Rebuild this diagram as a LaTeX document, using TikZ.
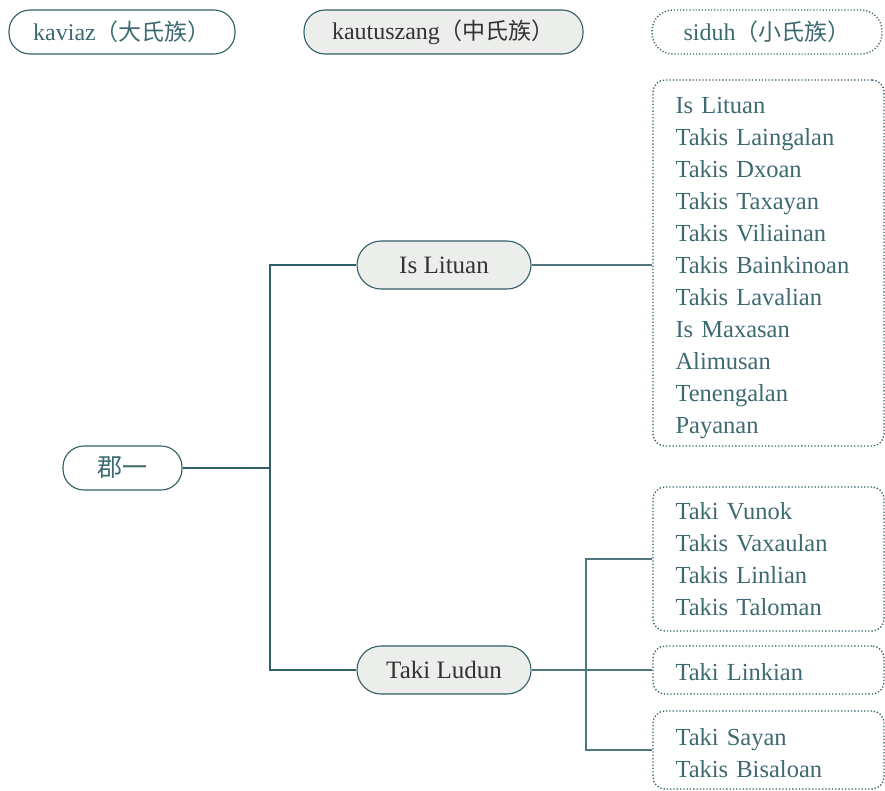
\documentclass[tikz,border=0pt]{standalone}
\usepackage{fontspec}
\setmainfont{Liberation Serif}
\newfontfamily\cjk{Noto Sans CJK SC}
\definecolor{edge}{HTML}{2F5E66}
\definecolor{leaftxt}{HTML}{3D6A70}
\definecolor{midfill}{HTML}{ECEEEB}
\definecolor{midtxt}{HTML}{333333}
\newcommand{\cjkp}[1]{{\cjk\fontsize{23}{26}\selectfont #1}}
\begin{document}
\begin{tikzpicture}[x=1pt,y=-1pt,
  pill/.style={draw=edge,line width=1.1pt,rounded corners=21pt,minimum height=44pt,inner sep=0pt,font=\fontsize{24}{28}\selectfont},
  leafbox/.style={draw=edge,line width=1.3pt,dotted,rounded corners=12pt,minimum width=231pt,text width=186pt,align=left,inner xsep=22.5pt,inner ysep=0pt,text=leaftxt,font=\fontsize{24.5}{32}\selectfont},
  mid/.style={pill,fill=midfill,text=midtxt,minimum width=174pt,minimum height=48pt,rounded corners=24pt,font=\fontsize{25}{28}\selectfont},
  thick link/.style={draw=edge,line width=2.8pt},
  thin link/.style={draw=edge!85,line width=1.4pt}]
\useasboundingbox (0,0) rectangle (885,790);
% legend
\node[pill,text=leaftxt,minimum width=226pt] (lgA) at (122,32) {kaviaz\cjkp{（大氏族）}};
\node[pill,fill=midfill,text=midtxt,minimum width=279pt] (lgB) at (443.5,32) {kautuszang\cjkp{（中氏族）}};
\node[pill,dotted,line width=1.4pt,text=leaftxt,minimum width=230pt] (lgC) at (767,32) {siduh\cjkp{（小氏族）}};
% root
\node[pill,text=leaftxt,minimum width=119pt,font=\cjk\fontsize{25}{28}\selectfont] (root) at (122.5,468) {郡一};
% middle
\node[mid] (is) at (444,265) {Is Lituan};
\node[mid] (taki) at (444,670) {Taki Ludun};
% leaves
\node[leafbox,minimum height=366pt] (L1) at (768.5,263) {\rule{0pt}{27pt}Is Lituan\\Takis Laingalan\\Takis Dxoan\\Takis Taxayan\\Takis Viliainan\\Takis Bainkinoan\\Takis Lavalian\\Is Maxasan\\Alimusan\\Tenengalan\\Payanan};
\node[leafbox,minimum height=144pt] (L2) at (768.5,559) {Taki Vunok\\Takis Vaxaulan\\Takis Linlian\\Takis Taloman};
\node[leafbox,minimum height=48pt] (L3) at (768.5,670) {\rule{0pt}{22pt}Taki Linkian};
\node[leafbox,minimum height=78pt] (L4) at (768.5,750) {\rule{0pt}{24pt}Taki Sayan\\Takis Bisaloan};
% connectors
\coordinate (j1) at (270,468);
\draw[thick link] (root.east) -- (j1);
\draw[thick link] (is.west) -| (j1) |- (taki.west);
\draw[thin link] (is.east) -- (L1.west |- is.east);
\coordinate (j2) at (586,670);
\draw[thin link] (taki.east) -- (j2);
\draw[thin link] (L2.west) -| (j2) |- (L4.west);
\draw[thin link] (j2) -- (L3.west);
\end{tikzpicture}
\end{document}
